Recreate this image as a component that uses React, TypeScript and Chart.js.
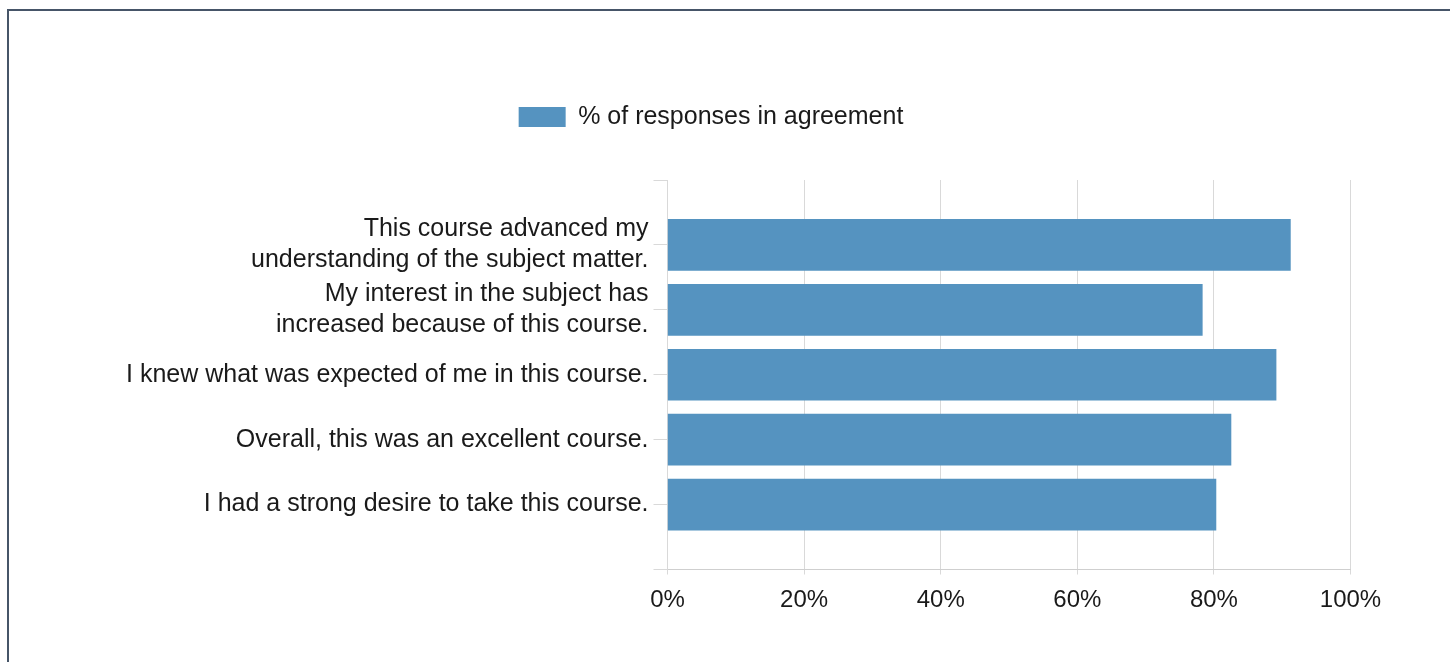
import React, { useEffect, useRef } from "react";
import { Chart, registerables } from "chart.js";

Chart.register(...registerables);

const questions: (string | string[])[] = [
  ["This course advanced my", "understanding of the subject matter."],
  ["My interest in the subject has", "increased because of this course."],
  "I knew what was expected of me in this course.",
  "Overall, this was an excellent course.",
  "I had a strong desire to take this course.",
];
const agreement: number[] = [91.2, 78.3, 89.1, 82.5, 80.3];
const seriesName = "% of responses in agreement";
const xTicks: number[] = [0, 20, 40, 60, 80, 100];

const FONT = "'Liberation Sans', Arial, Helvetica, sans-serif";

export default function App() {
  const ref = useRef<HTMLCanvasElement | null>(null);
  useEffect(() => {
    if (!ref.current) return;
    Chart.defaults.font.family = FONT;
    const labels = ["", ...questions, ""];
    const data = [null, ...agreement, null];
    const chart = new Chart(ref.current, {
      type: "bar",
      data: {
        labels,
        datasets: [
          {
            label: seriesName,
            data,
            backgroundColor: "#5593c0",
            borderWidth: 0,
            barThickness: 51,
          },
        ],
      },
      options: {
        indexAxis: "y",
        responsive: false,
        animation: false,
        layout: { padding: { left: 71.5, right: 99.5, top: 94.5, bottom: 32 } },
        plugins: {
          tooltip: { enabled: false },
          legend: {
            position: "top",
            align: "center",
            labels: {
              boxWidth: 47,
              boxHeight: 20,
              padding: 10,
              color: "#1a1a1a",
              font: { size: 25, family: FONT },
            },
          },
          title: {
            display: true,
            text: " ",
            weight: 500,
            padding: { top: 39.5, bottom: 0 },
            font: { size: 1, lineHeight: 1 },
          },
        },
        scales: {
          x: {
            type: "linear",
            min: 0,
            max: 100,
            afterBuildTicks: (axis: any) => {
              axis.ticks = xTicks.map((v) => ({ value: v }));
            },
            afterFit: (axis: any) => {
              axis.height = 60.5;
            },
            ticks: {
              callback: (v: any) => v + "%",
              color: "#1a1a1a",
              padding: 11,
              font: { size: 24, family: FONT },
            },
            grid: { color: "#d9d9d9", tickLength: 5, drawTicks: true },
            border: { display: true, color: "#cfcfcf" },
          },
          y: {
            type: "category",
            offset: false,
            afterFit: (axis: any) => {
              axis.width = 596;
            },
            ticks: {
              color: "#1a1a1a",
              padding: 5,
              autoSkip: false,
              font: { size: 25, family: FONT, lineHeight: 1.24 },
            },
            grid: {
              color: "#d9d9d9",
              offset: false,
              drawOnChartArea: false,
              drawTicks: true,
              tickLength: 14,
            },
            border: { display: true, color: "#d9d9d9" },
          },
        },
      },
    });
    return () => chart.destroy();
  }, []);

  return (
    <div style={{ position: "absolute", left: 0, top: 0, width: 1450, height: 662, background: "#fff" }}>
      <canvas ref={ref} width={1450} height={662} style={{ display: "block", position: "absolute", left: 0, top: 0 }} />
      <div
        style={{
          position: "absolute",
          left: 7,
          top: 9,
          width: 1443,
          height: 653,
          boxSizing: "border-box",
          borderTop: "2px solid #465568",
          borderLeft: "2px solid #465568",
          pointerEvents: "none",
        }}
      />
    </div>
  );
}
